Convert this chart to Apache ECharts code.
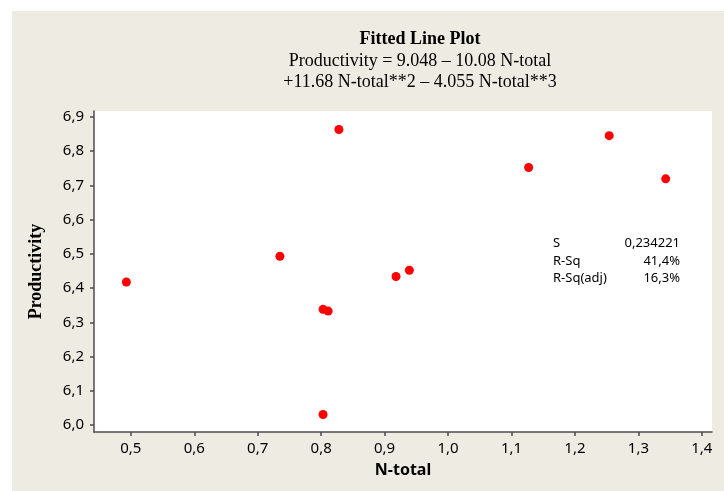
<!DOCTYPE html>
<html>
<head>
<meta charset="utf-8">
<script src="https://cdn.jsdelivr.net/npm/echarts@6/dist/echarts.min.js"></script>
<style>
  html, body { margin: 0; padding: 0; background: #fff; }
  #panel { position: absolute; left: 12px; top: 11px; width: 712px; height: 480px; background: #eeebe2; }
  #mycharts { position: absolute; left: 0; top: 0; width: 724px; height: 491px; }
</style>
</head>
<body>
<div id="panel"></div>
<div id="mycharts"></div>
<script>
// data
var nTotal = [0.493, 0.735, 0.828, 0.803, 0.811, 0.803, 0.918, 0.939, 1.127, 1.254, 1.343];
var productivity = [6.418, 6.493, 6.863, 6.338, 6.333, 6.031, 6.434, 6.452, 6.752, 6.845, 6.719];

var xTicks = [0.5, 0.6, 0.7, 0.8, 0.9, 1.0, 1.1, 1.2, 1.3, 1.4];
var yTicks = [6.0, 6.1, 6.2, 6.3, 6.4, 6.5, 6.6, 6.7, 6.8, 6.9];

var statNames = ['S', 'R-Sq', 'R-Sq(adj)'];
var statValues = ['0,234221', '41,4%', '16,3%'];

var axisColor = '#4d4d4d';
var fmt = function (v) { return Number(v).toFixed(1).replace('.', ','); };

var points = nTotal.map(function (x, i) { return [x, productivity[i]]; });

var statsText = [];
statNames.forEach(function (name, i) {
    statsText.push({
        type: 'text', left: 553, top: 237 + i * 17.5,
        style: { text: name, font: '13px "Noto Sans"', fill: '#000' }
    });
    statsText.push({
        type: 'text', right: 724 - 680, top: 237 + i * 17.5,
        style: { text: statValues[i], font: '13px "Noto Sans"', fill: '#000', textAlign: 'right' }
    });
});

var myChart = echarts.init(document.getElementById('mycharts'));
var option = {
    backgroundColor: 'transparent',
    animation: false,
    title: {
        text: 'Fitted Line Plot',
        subtext: 'Productivity = 9.048 \u2013 10.08 N-total\n+11.68 N-total**2 \u2013 4.055 N-total**3',
        left: 420,
        textAlign: 'center',
        top: 30,
        itemGap: 3,
        padding: 0,
        textStyle: { fontFamily: 'Liberation Serif', fontWeight: 'bold', fontSize: 18, color: '#000' },
        subtextStyle: { fontFamily: 'Liberation Serif', fontSize: 18, color: '#000', lineHeight: 21 }
    },
    grid: {
        left: 94, top: 111, right: 12, bottom: 59,
        show: true, backgroundColor: '#fff', borderWidth: 0
    },
    xAxis: {
        type: 'value',
        min: 0.442, max: 1.416,
        name: 'N-total',
        nameLocation: 'middle',
        nameGap: 30,
        nameTextStyle: { fontFamily: 'Noto Sans', fontWeight: 'bold', fontSize: 16, color: '#000' },
        splitLine: { show: false },
        axisLine: { lineStyle: { color: axisColor, width: 1.5 } },
        axisTick: { customValues: xTicks, length: 4, lineStyle: { color: axisColor, width: 1.5 } },
        axisLabel: { customValues: xTicks, formatter: fmt, margin: 9, fontFamily: 'Noto Sans', fontSize: 15, color: '#000' }
    },
    yAxis: {
        type: 'value',
        min: 5.98, max: 6.917,
        name: 'Productivity',
        nameLocation: 'middle',
        nameGap: 49,
        nameTextStyle: { fontFamily: 'Liberation Serif', fontWeight: 'bold', fontSize: 18, color: '#000' },
        splitLine: { show: false },
        axisLine: { show: true, lineStyle: { color: axisColor, width: 1.5 } },
        axisTick: { show: true, customValues: yTicks, length: 4, lineStyle: { color: axisColor, width: 1.5 } },
        axisLabel: { customValues: yTicks, formatter: fmt, margin: 10, fontFamily: 'Noto Sans', fontSize: 15, color: '#000' }
    },
    graphic: statsText,
    series: [{
        type: 'scatter',
        data: points,
        symbol: 'circle',
        symbolSize: 9,
        itemStyle: { color: '#ff0000', opacity: 1 }
    }]
};

myChart.setOption(option);
</script>
</body>
</html>
